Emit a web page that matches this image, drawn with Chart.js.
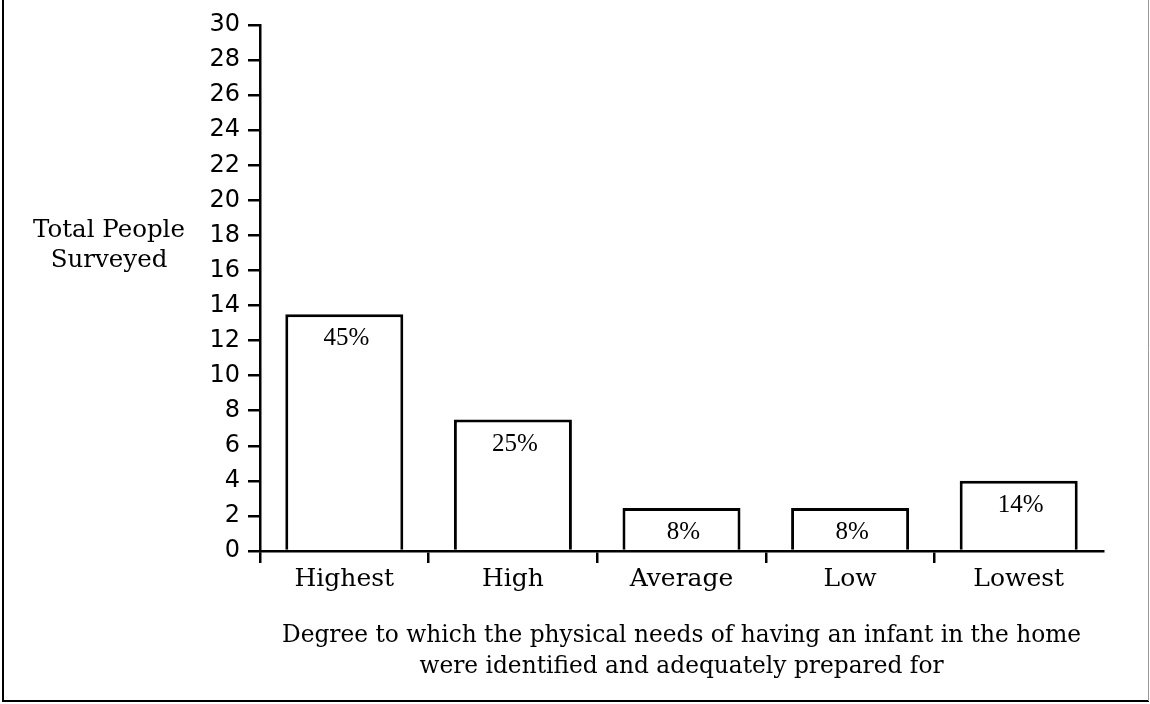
<!DOCTYPE html>
<html>
<head>
<meta charset="utf-8">
<script src="https://cdn.jsdelivr.net/npm/chart.js@4.4.1/dist/chart.umd.min.js"></script>
<style>
  html, body { margin: 0; padding: 0; background: #fff; }
  #wrap { width: 1150px; height: 704px; position: relative; }
</style>
</head>
<body>
<div id="wrap"><canvas id="c" width="1150" height="704"></canvas></div>
<script>
const categories = ['Highest', 'High', 'Average', 'Low', 'Lowest'];
const totals = [13.5, 7.5, 2.45, 2.45, 4];
const percentLabels = ['45%', '25%', '8%', '8%', '14%'];
const yTitleLines = ['Total People', 'Surveyed'];
const xTitleLines = ['Degree to which the physical needs of having an infant in the home',
                     'were identified and adequately prepared for'];

const SERIF = '"DejaVu Serif", serif';
const TIMES = '"Liberation Serif", "Times New Roman", serif';
const SANS = '"DejaVu Sans", "Liberation Sans", sans-serif';

const decor = {
  id: 'decor',
  afterDraw(chart) {
    const ctx = chart.ctx;
    const area = chart.chartArea;
    ctx.save();
    // frame
    ctx.strokeStyle = '#000';
    ctx.lineWidth = 2;
    ctx.beginPath();
    ctx.moveTo(3, 0); ctx.lineTo(3, 701); ctx.lineTo(1149, 701);
    ctx.stroke();
    ctx.strokeStyle = '#999';
    ctx.lineWidth = 1;
    ctx.beginPath();
    ctx.moveTo(1148.5, 0); ctx.lineTo(1148.5, 701);
    ctx.stroke();

    // bar labels
    ctx.fillStyle = '#000';
    ctx.font = '25px ' + TIMES;
    ctx.textAlign = 'center';
    ctx.textBaseline = 'alphabetic';
    const meta = chart.getDatasetMeta(0);
    meta.data.forEach((bar, i) => {
      ctx.fillText(percentLabels[i], bar.x + 2, bar.y + 31);
    });

    // y title (horizontal)
    ctx.font = '24.5px ' + SERIF;
    yTitleLines.forEach((t, i) => ctx.fillText(t, 109, 237 + i * 30));

    // x title
    ctx.font = '23.3px ' + SERIF;
    const cx = (area.left + area.right) / 2;
    xTitleLines.forEach((t, i) => ctx.fillText(t, cx, 642 + i * 31));
    ctx.restore();
  }
};

new Chart(document.getElementById('c'), {
  type: 'bar',
  data: {
    labels: categories,
    datasets: [{
      data: totals,
      backgroundColor: '#fff',
      borderColor: '#000',
      borderWidth: 3,
      barPercentage: 0.70,
      categoryPercentage: 1.0
    }]
  },
  options: {
    responsive: false,
    animation: false,
    events: [],
    layout: { padding: { top: 25, right: 47, left: 0, bottom: 0 } },
    plugins: { legend: { display: false }, tooltip: { enabled: false }, title: { display: false } },
    scales: {
      x: {
        offset: true,
        grid: {
          offset: true,
          drawOnChartArea: false,
          tickLength: 12,
          lineWidth: 2.5,
          color: (c) => (c.index === undefined ? 'rgba(0,0,0,0)' : '#000')
        },
        border: { display: true, color: '#000', width: 2.5 },
        ticks: {
          color: '#000',
          font: { family: SERIF, size: 25 },
          padding: 1,
          maxRotation: 0
        },
        afterFit(scale) { scale.height = 153; }
      },
      y: {
        min: 0,
        max: 30,
        ticks: {
          stepSize: 2,
          color: '#000',
          font: { family: SANS, size: 24 },
          padding: 8
        },
        grid: {
          drawOnChartArea: false,
          tickLength: 12,
          lineWidth: 2.5,
          color: '#000'
        },
        border: { display: true, color: '#000', width: 2.5 },
        afterFit(scale) { scale.width = 260; }
      }
    }
  },
  plugins: [decor]
});
</script>
</body>
</html>
